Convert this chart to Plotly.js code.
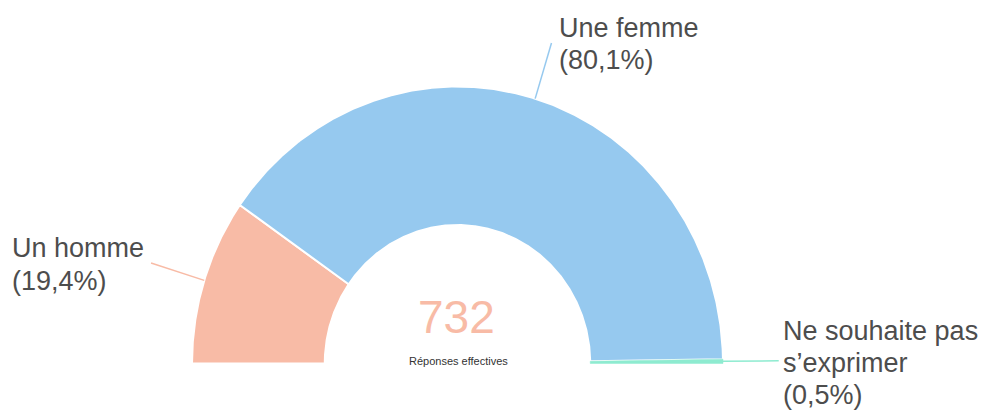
<!DOCTYPE html>
<html>
<head>
<meta charset="utf-8">
<script src="https://cdn.plot.ly/plotly-3.0.1.min.js"></script>
<style>html,body{margin:0;padding:0;background:#fff;}#chart{width:984px;height:411px;}</style>
</head>
<body>
<div id="chart"></div>
<script>
// ---- data ----
const categories = ["Un homme", "Une femme", "Ne souhaite pas s’exprimer"];
const percentages = [19.4, 80.1, 0.5];
const labelLines = [["Un homme", "(19,4%)"], ["Une femme", "(80,1%)"], ["Ne souhaite pas", "s’exprimer", "(0,5%)"]];
const totalResponses = 732;
const centerCaption = "Réponses effectives";

// ---- style ----
const sliceColors = ["#F8BBA6", "#96C9EF", "#8EEBD0"];
const textColor = "#4D4D4D";
const font = '"Liberation Sans", Arial, sans-serif';
const holeRatio = 0.5;

const total = percentages.reduce((a, b) => a + b, 0);
const traces = [];
let cum = 0;
const mids = [];
percentages.forEach((p, i) => {
  const a0 = Math.PI * (1 - cum / total);
  const a1 = Math.PI * (1 - (cum + p) / total);
  mids.push(Math.PI * (1 - (cum + p / 2) / total));
  cum += p;
  const n = Math.max(4, Math.ceil(Math.abs(a0 - a1) / 0.005));
  const xs = [], ys = [];
  for (let k = 0; k <= n; k++) { const a = a0 + (a1 - a0) * k / n; xs.push(Math.cos(a)); ys.push(Math.sin(a)); }
  for (let k = n; k >= 0; k--) { const a = a0 + (a1 - a0) * k / n; xs.push(holeRatio * Math.cos(a)); ys.push(holeRatio * Math.sin(a)); }
  xs.push(xs[0]); ys.push(ys[0]);
  traces.push({
    type: "scatter", mode: "lines", x: xs, y: ys, fill: "toself",
    fillcolor: sliceColors[i], name: categories[i],
    line: { color: i === 2 ? sliceColors[i] : "#ffffff", width: i === 2 ? 0.5 : 2 },
    hoverinfo: "name"
  });
});
// leader lines
mids.forEach((a, i) => {
  traces.push({
    type: "scatter", mode: "lines",
    x: [Math.cos(a), 1.21 * Math.cos(a)], y: [Math.sin(a), 1.21 * Math.sin(a)],
    line: { color: sliceColors[i], width: 1.5 }, hoverinfo: "skip"
  });
});

const W = 984, H = 411;
const cx = 457.5, cy = 363.5, rx = 265.5, ry = 277;
const labelPos = [
  { x: 10, ys: [248, 281] },
  { x: 557, ys: [28, 60] },
  { x: 781, ys: [331, 363, 395] }
];
const annotations = [];
labelLines.forEach((lines, i) => {
  lines.forEach((t, j) => {
    annotations.push({
      text: t, showarrow: false, xref: "paper", yref: "paper",
      x: labelPos[i].x / W, y: 1 - labelPos[i].ys[j] / H, xanchor: "left", yanchor: "middle",
      font: { family: font, size: 27, color: textColor }
    });
  });
});
annotations.push({
  text: String(totalResponses), showarrow: false, xref: "paper", yref: "paper",
  x: 456 / W, y: 1 - 317 / H, xanchor: "center", yanchor: "middle",
  font: { family: font, size: 46, color: sliceColors[0] }
});
annotations.push({
  text: centerCaption, showarrow: false, xref: "paper", yref: "paper",
  x: 458 / W, y: 1 - 361 / H, xanchor: "center", yanchor: "middle",
  font: { family: font, size: 11, color: "#333333" }
});

const layout = {
  width: W, height: H, margin: { l: 0, r: 0, t: 0, b: 0 },
  paper_bgcolor: "#ffffff", plot_bgcolor: "#ffffff", showlegend: false,
  xaxis: { range: [-cx / rx, (W - cx) / rx], visible: false, fixedrange: true },
  yaxis: { range: [-(H - cy) / ry, cy / ry], visible: false, fixedrange: true },
  annotations: annotations
};
Plotly.newPlot("chart", traces, layout, { displayModeBar: false, staticPlot: true });
</script>
</body>
</html>
